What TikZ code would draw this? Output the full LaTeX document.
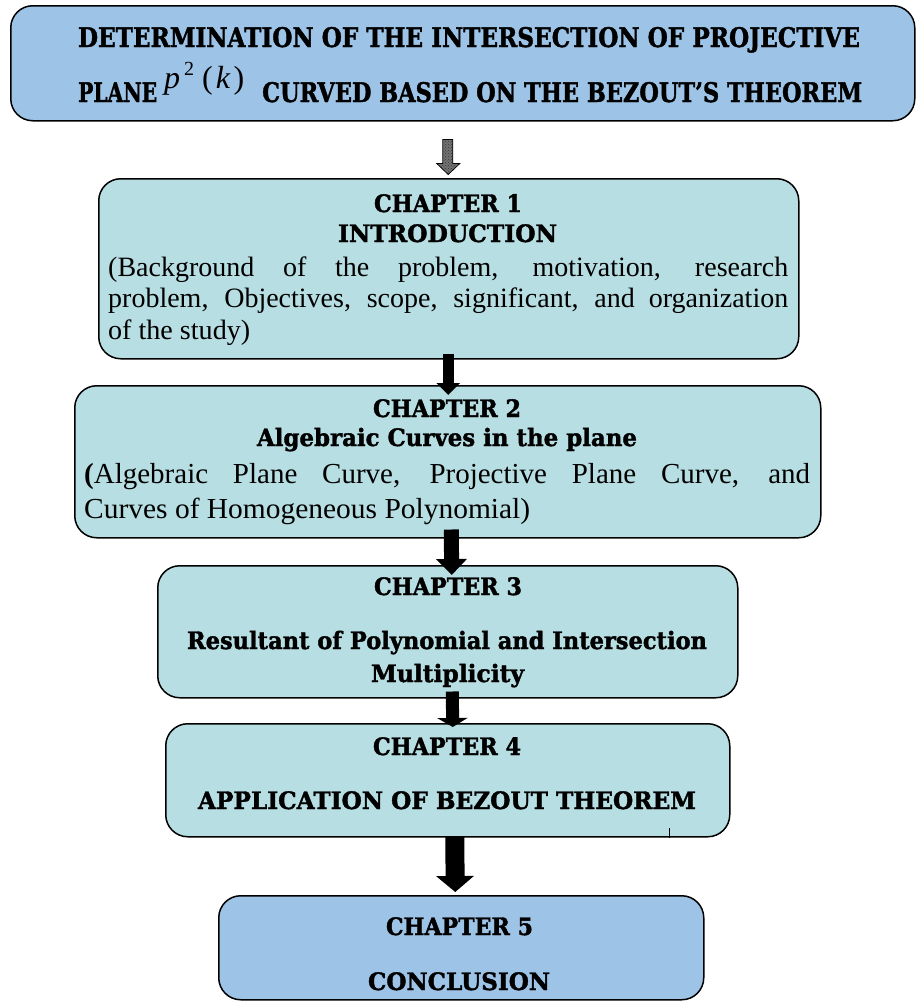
\documentclass[tikz,border=0pt]{standalone}
\usepackage{fontspec}
\setmainfont{Liberation Serif}
\newfontfamily\hf{DejaVu Serif}[BoldFeatures={FakeBold=1.6}]
\usetikzlibrary{arrows.meta,calc,patterns}
\definecolor{bluebox}{HTML}{9DC3E6}
\definecolor{tealbox}{HTML}{B7DEE2}
\newcommand{\fitw}[2]{\resizebox{#1}{\height}{#2}}
\begin{document}
\begin{tikzpicture}[x=1pt,y=-1pt,
  box/.style={draw=black,line width=1.5pt,rounded corners=22pt,inner sep=0pt,anchor=north west},
  hdr/.style={anchor=base,inner sep=0pt,font=\hf\bfseries\fontsize{24}{28}\selectfont},
  ttl/.style={anchor=base,inner sep=0pt,font=\hf\bfseries\fontsize{27}{30}\selectfont},
  body/.style={anchor=base west,inner sep=0pt,font=\fontsize{28}{32}\selectfont},
  bodyb/.style={anchor=base west,inner sep=0pt,font=\fontsize{29}{34}\selectfont},
  bigarrow/.style={line width=#1}
]
\useasboundingbox (0,0) rectangle (917,1001);

% boxes
\node[box,fill=bluebox,minimum width=904pt,minimum height=115pt] (top) at (10,5) {};
\node[box,fill=tealbox,minimum width=700pt,minimum height=180pt] (b1) at (98,178) {};
\node[box,fill=tealbox,minimum width=746pt,minimum height=152pt] (b2) at (74,385) {};
\node[box,fill=tealbox,minimum width=580pt,minimum height=132pt] (b3) at (157,565) {};
\node[box,fill=tealbox,minimum width=564pt,minimum height=113pt] (b4) at (165,723) {};
\node[box,fill=bluebox,minimum width=485pt,minimum height=104pt] (b5) at (218,895) {};

% title
\node[ttl] (t1) at (469,47) {\fitw{782pt}{DETERMINATION OF THE INTERSECTION OF PROJECTIVE}};
\node[ttl,anchor=base west] (t2a) at (78,102) {\fitw{79pt}{PLANE}};
\node[anchor=base west,inner sep=0pt,font=\fontsize{32}{34}\selectfont] (t2b) at (164,88)
  {\textit{p}\hspace{4pt}\raisebox{13pt}{\fontsize{20}{20}\selectfont 2}\hspace{8pt}(\hspace{3pt}\textit{k}\hspace{3pt})};
\node[ttl,anchor=base west] (t2c) at (262,102) {\fitw{600pt}{CURVED BASED ON THE BEZOUT’S THEOREM}};

% chapter 1
\node[hdr] (h1a) at (448,212) {\fitw{148pt}{CHAPTER 1}};
\node[hdr] (h1b) at (447.5,242) {\fitw{219pt}{INTRODUCTION}};
\node[body] (p1a) at (108,276) {\makebox[680pt][s]{(Background of the problem, motivation, research}};
\node[body] (p1b) at (108,307) {\makebox[680pt][s]{problem, Objectives, scope, significant, and organization}};
\node[body] (p1c) at (108,339) {\fitw{142pt}{of the study)}};

% chapter 2
\node[hdr] (h2a) at (447,417) {\fitw{148pt}{CHAPTER 2}};
\node[hdr] (h2b) at (447,446) {\fitw{380pt}{Algebraic Curves in the plane}};
\node[bodyb] (p2a) at (84,483) {\makebox[726pt][s]{\textbf{(}Algebraic Plane Curve, Projective Plane Curve, and}};
\node[bodyb] (p2b) at (84,518) {\fitw{446pt}{Curves of Homogeneous Polynomial)}};

% chapter 3
\node[hdr] (h3a) at (448,595) {\fitw{148pt}{CHAPTER 3}};
\node[hdr] (h3b) at (447,649) {\fitw{520pt}{Resultant of Polynomial and Intersection}};
\node[hdr] (h3c) at (447.5,682) {\fitw{153pt}{Multiplicity}};

% chapter 4
\node[hdr] (h4a) at (447,755) {\fitw{148pt}{CHAPTER 4}};
\node[hdr] (h4b) at (447,809) {\fitw{498pt}{APPLICATION OF BEZOUT THEOREM}};
\draw[line width=0.8pt] ($(b4.south east)+(-61,0)$) coordinate (tk) -- ($(tk)+(0,-10)$);

% chapter 5
\node[hdr] (h5a) at (459.5,935) {\fitw{147pt}{CHAPTER 5}};
\node[hdr] (h5b) at (459,990) {\fitw{182pt}{CONCLUSION}};

% top arrow (patterned gray)
\coordinate (ta) at ($(top.south)+(-15,18)$);
\filldraw[fill=black!55,draw=black,line width=0.8pt]
  ($(ta)+(-5,0)$) -- ($(ta)+(5,0)$) -- ($(ta)+(5,24)$) -- ($(ta)+(12,24)$)
  -- ($(ta)+(0.5,35)$) -- ($(ta)+(-11,24)$) -- ($(ta)+(-5,24)$) -- cycle;
\fill[pattern=crosshatch dots,pattern color=black!80]
  ($(ta)+(-5,0)$) -- ($(ta)+(5,0)$) -- ($(ta)+(5,24)$) -- ($(ta)+(12,24)$)
  -- ($(ta)+(0.5,35)$) -- ($(ta)+(-11,24)$) -- ($(ta)+(-5,24)$) -- cycle;

% black arrows
\draw[bigarrow=11pt,-{Triangle[width=23pt,length=12pt]}] ($(b1.south)+(-0.5,-6)$) -- ($(b2.north)+(0.5,10)$);
\draw[bigarrow=15pt,-{Triangle[width=30pt,length=16pt]}] ($(b2.south)+(3.5,-9)$) -- ($(b3.north)+(4,10)$);
\draw[bigarrow=13pt,-{Triangle[width=30pt,length=9pt]}] ($(b3.south)+(4.5,-7)$) -- ($(b4.north)+(5,4)$);
\draw[bigarrow=19pt,-{Triangle[width=37pt,length=16pt]}] ($(b4.south)+(7,-1)$) -- ($(b5.north)+(-6,-3)$);
\end{tikzpicture}
\end{document}
